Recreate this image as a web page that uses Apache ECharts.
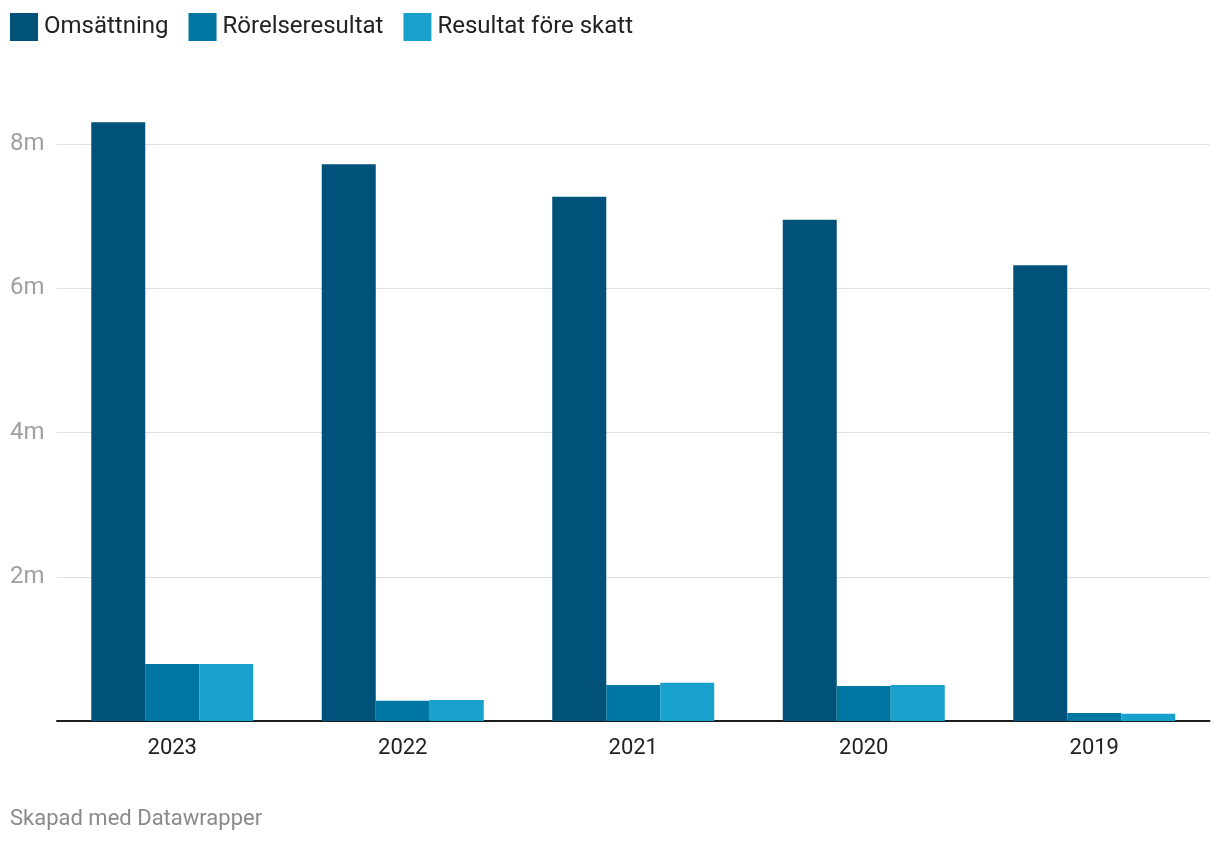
<!DOCTYPE html>
<html><head><meta charset="utf-8">
<script src="https://cdn.jsdelivr.net/npm/echarts@6/dist/echarts.min.js"></script>
<style>html,body{margin:0;padding:0;background:#fff}#c{width:1220px;height:844px}</style>
</head><body><div id="c"></div>
<script>
const categories = ['2023','2022','2021','2020','2019'];
const omsattning = [8.30, 7.72, 7.27, 6.95, 6.32];
const rorelseresultat = [0.79, 0.28, 0.50, 0.485, 0.11];
const resultatForeSkatt = [0.79, 0.29, 0.53, 0.50, 0.10];
const seriesNames = ['Omsättning','Rörelseresultat','Resultat före skatt'];
const colors = ['#00527a','#0076a2','#19a1cd'];
const yTicks = [0, 2, 4, 6, 8];

const chart = echarts.init(document.getElementById('c'), null, {renderer:'canvas'});
const font = 'Roboto, sans-serif';
chart.setOption({
  animation:false,
  textStyle:{fontFamily:font},
  color: colors,
  legend:{
    left:5, top:8, itemWidth:28, itemHeight:28, itemGap:20,
    icon:'rect',
    textStyle:{fontSize:24, color:'#222', fontFamily:font, padding:[0,0,0,1]},
    data: seriesNames
  },
  grid:{left:57, right:10.5, top:144, bottom:123, containLabel:false},
  xAxis:{
    type:'category', data:categories,
    axisLine:{lineStyle:{color:'#1d1d1d', width:2}},
    axisTick:{show:false},
    axisLabel:{fontSize:22, color:'#222', margin:16, fontFamily:font}
  },
  yAxis:{
    type:'value', min:0, max:yTicks[yTicks.length-1], interval:2,
    axisLine:{show:false}, axisTick:{show:false},
    splitLine:{lineStyle:{color:'#e0e0e0', width:1}},
    axisLabel:{fontSize:24, color:'#a0a0a0', align:'left', margin:47, fontFamily:font,
      padding:[3,0,0,0],
      formatter: v => v===0 ? '' : v + 'm'}
  },
  graphic:[{type:'text', left:10, top:808, style:{text:'Skapad med Datawrapper', fontSize:22, fill:'#8a8a8a', fontFamily:font}}],
  series:[
    {name:seriesNames[0], type:'bar', data:omsattning, barWidth:54, barGap:'0%', clip:false},
    {name:seriesNames[1], type:'bar', data:rorelseresultat, barWidth:54, barGap:'0%', clip:false},
    {name:seriesNames[2], type:'bar', data:resultatForeSkatt, barWidth:54, barGap:'0%', clip:false}
  ]
});
</script></body></html>
